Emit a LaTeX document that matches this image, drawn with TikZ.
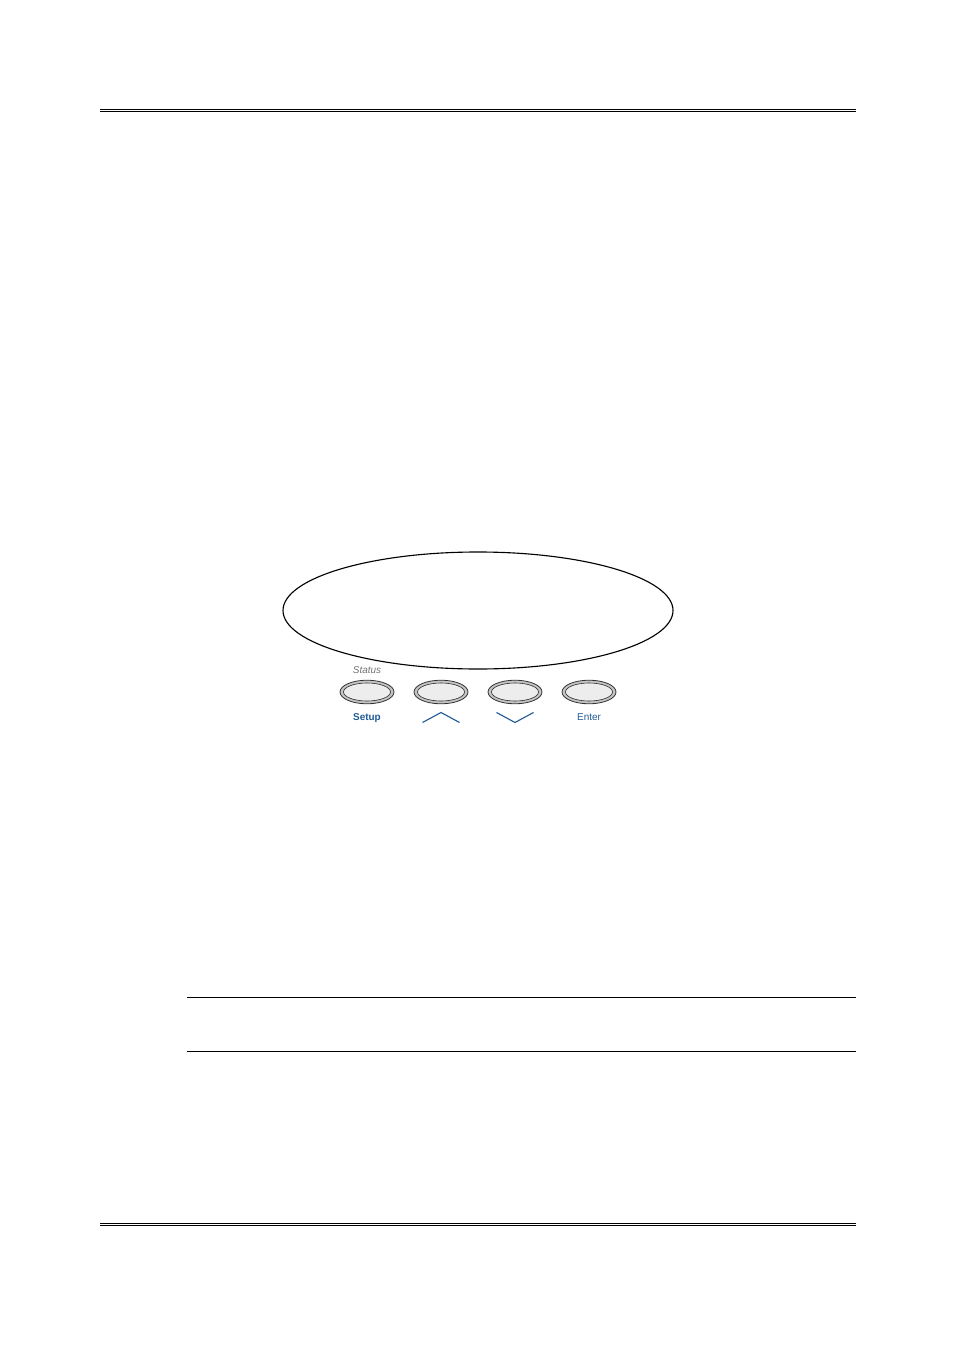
\documentclass[tikz,border=0pt]{standalone}
\usepackage{fontspec}
\setmainfont{Liberation Sans}
\usetikzlibrary{positioning}
\definecolor{keyblue}{HTML}{1F5A96}
\definecolor{keyrim}{HTML}{C4C4C4}
\definecolor{keyface}{HTML}{EDEDED}

\begin{document}
\begin{tikzpicture}[x=0.6237pt,y=-0.6237pt,
    rule/.style={line width=0.6pt},
    keyrimstyle/.style={draw=black!80, fill=keyrim, line width=0.5pt},
    keyfacestyle/.style={draw=black!80, fill=keyface, line width=0.4pt},
    keylabel/.style={font=\fontsize{6.2}{7}\selectfont, text=keyblue, inner sep=0pt, anchor=base},
    chevron/.style={draw=keyblue, line width=0.7pt}]
  \useasboundingbox (0,0) rectangle (954,1351);
  % Header rules
  \draw[rule, line width=0.8pt] (100,109.4) -- (856,109.4);
  \draw[rule] (100,111.6) -- (856,111.6);
  % Display
  \draw[line width=0.7pt] (478,610.5) ellipse (195 and 58.5);
  % Keys
  \foreach \i/\x in {1/367, 2/441, 3/515, 4/589} {
    \coordinate (key\i) at (\x,692);
    \draw[keyrimstyle] (key\i) ellipse (27 and 11.8);
    \draw[keyfacestyle] (key\i) ellipse (23.5 and 9);
  }
  % Key labels
  \node[keylabel, text=black!55, font=\fontsize{6.2}{7}\selectfont\itshape] (status) at (367,673) {Status};
  \node[keylabel, font=\fontsize{6.2}{7}\selectfont\bfseries] (setup) at (367,720.5) {Setup};
  \node[keylabel] (enter) at (589,720.5) {Enter};
  % Arrow marks
  \draw[chevron] (422.5,722.5) -- (441,712.5) -- (459.5,722.5);
  \draw[chevron] (496.5,712.5) -- (515,722.5) -- (533.5,712.5);
  % Note rules
  \draw[rule] (187,997) -- (856,997);
  \draw[rule] (187,1051) -- (856,1051);
  % Footer rules
  \draw[rule, line width=0.8pt] (100,1223.4) -- (856,1223.4);
  \draw[rule] (100,1225.6) -- (856,1225.6);
\end{tikzpicture}
\end{document}
